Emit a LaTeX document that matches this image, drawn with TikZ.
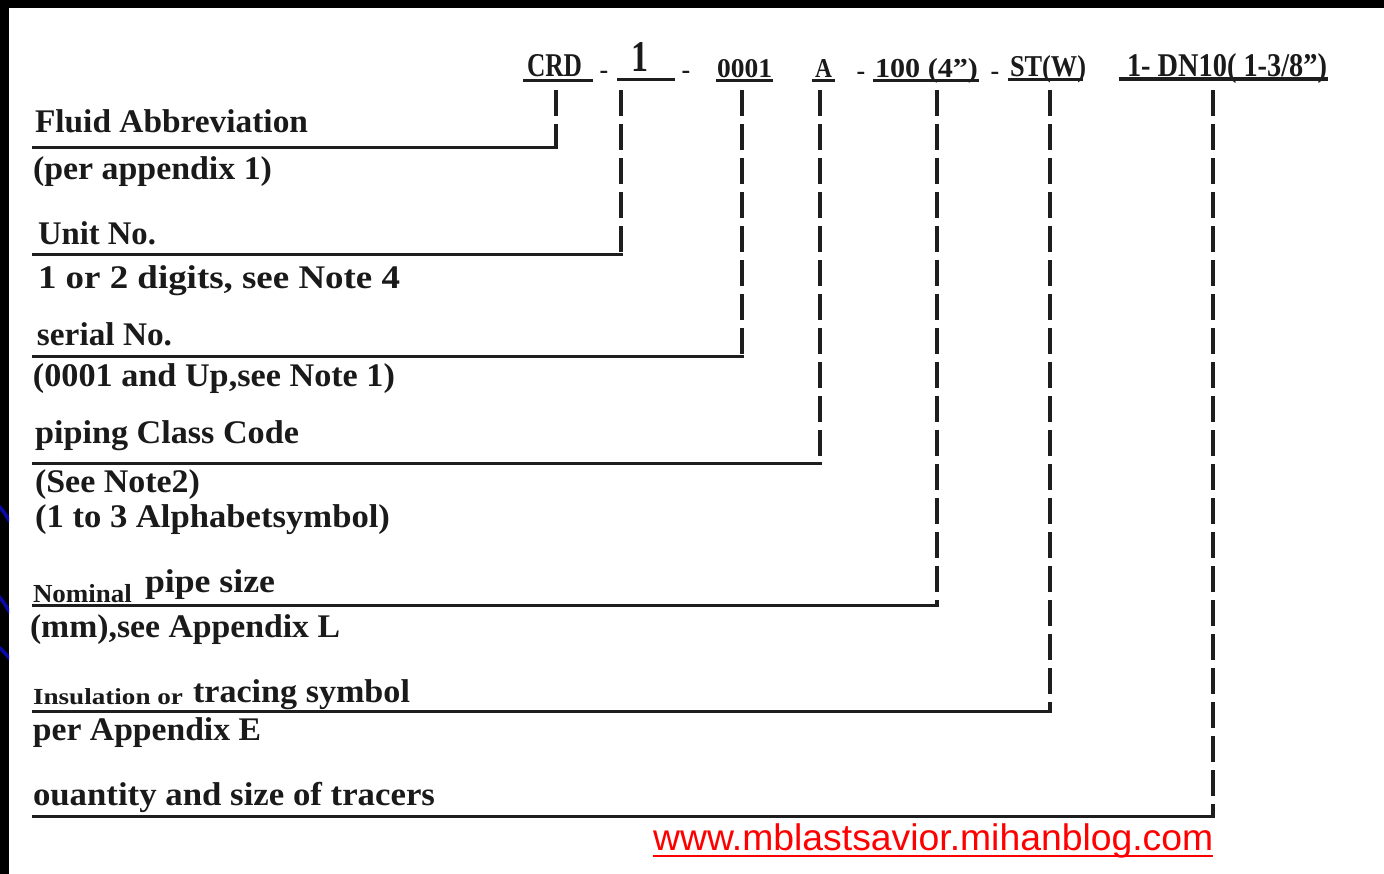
\documentclass[tikz,border=0pt]{standalone}
\usepackage{fontspec}
\setmainfont{Liberation Serif}
\newfontfamily\urlfont{Liberation Sans}
\usepackage{graphicx}
\definecolor{ink}{HTML}{1A1A1A}
\definecolor{lineink}{HTML}{1E1E1E}
\definecolor{slideblue}{HTML}{0A0AA8}
\definecolor{urlred}{HTML}{FF0000}
\newcommand\hfit[2]{\resizebox{#1pt}{\height}{#2}}
\newcommand\bfit[3]{\resizebox{#1pt}{#2pt}{#3}}
\tikzset{
  lbl/.style={anchor=base west, inner sep=0pt, outer sep=0pt, text=ink,
    font=\fontsize{33}{36}\selectfont\bfseries},
  smalllbl/.style={lbl, font=\fontsize{26}{28}\selectfont\bfseries},
  hdr/.style={anchor=base west, inner sep=0pt, outer sep=0pt, text=ink,
    font=\fontsize{30}{32}\selectfont\bfseries},
  dashlbl/.style={anchor=base, inner sep=0pt, outer sep=0pt, text=ink,
    font=\fontsize{26}{28}\selectfont\bfseries},
  uline/.style={draw=lineink, line width=3pt},
  leader/.style={draw=lineink, line width=3.2pt, dash pattern=on 26pt off 8pt},
  shelf/.style={draw=lineink, line width=3pt},
}
\begin{document}
\begin{tikzpicture}[x=1pt,y=-1pt]
\useasboundingbox (0,0) rectangle (1384,874);
% slide background
\fill[black] (0,0) rectangle (1384,874);
\fill[white] (9,8) rectangle (1384,874);
\begin{scope}
  \clip (0,8) rectangle (9,874);
  \draw[slideblue, line width=3.5pt] (-8,500) .. controls (0,506) and (5,513) .. (10,522);
  \draw[slideblue, line width=3.5pt] (-8,590) .. controls (0,596) and (5,604) .. (10,613);
  \draw[slideblue, line width=3.5pt] (-8,642) .. controls (0,647) and (5,653) .. (10,659);
\end{scope}

% ---------- header code ----------
\node[hdr] (crd)  at (527,77) {\bfit{55}{22}{CRD}};
\node[dashlbl] (d1) at (604,79) {-};
\node[hdr] (unit) at (631,72) {\bfit{17}{29}{1}};
\node[dashlbl] (d2) at (686,79) {-};
\node[hdr] (ser)  at (717,78) {\bfit{55}{18}{0001}};
\node[hdr] (cls)  at (815,78) {\bfit{17}{18}{A}};
\node[dashlbl] (d3) at (861,80) {-};
\node[hdr] (size) at (875,78) {\bfit{103}{19}{100 (4")}};
\node[dashlbl] (d4) at (995,80) {-};
\node[hdr] (ins)  at (1010,77) {\bfit{76}{21}{ST(W)}};
\node[hdr] (trc)  at (1127,77) {\bfit{200}{23}{1- DN10( 1-3/8")}};

\draw[uline] (523,81) -- (593,81);
\draw[uline] (617,80) -- (675,80);
\draw[uline] (716,81) -- (773,81);
\draw[uline] (812,81) -- (835,81);
\draw[uline] (873,81) -- (979,81);
\draw[uline] (1008,80) -- (1083,80);
\draw[uline, line width=3.5pt] (1119,79) -- (1328,79);

% ---------- labels ----------
\node[lbl] (l1a) at (35,133) {\hfit{273}{Fluid Abbreviation}};
\node[lbl] (l1b) at (33,180) {\hfit{239}{(per appendix 1)}};
\node[lbl] (l2a) at (38,245) {\hfit{118}{Unit No.}};
\node[lbl] (l2b) at (38,289) {\hfit{362}{1 or 2 digits, see Note 4}};
\node[lbl] (l3a) at (37,346) {\hfit{135}{serial No.}};
\node[lbl] (l3b) at (33,387) {\hfit{362}{(0001 and Up,see Note 1)}};
\node[lbl] (l4a) at (35,443) {\hfit{264}{piping Class Code}};
\node[lbl] (l4b) at (35,492) {\hfit{165}{(See Note2)}};
\node[lbl] (l4c) at (35,527) {\hfit{355}{(1 to 3 Alphabetsymbol)}};
\node[smalllbl] (l5n) at (33,602) {\hfit{99}{Nominal}};
\node[lbl] (l5a) at (145,592) {\hfit{130}{pipe size}};
\node[lbl] (l5b) at (30,637) {\hfit{310}{(mm),see Appendix L}};
\node[smalllbl, font=\fontsize{23}{25}\selectfont\bfseries] (l6n) at (33,704) {\hfit{150}{Insulation or}};
\node[lbl] (l6a) at (193,702) {\hfit{217}{tracing symbol}};
\node[lbl] (l6b) at (33,740) {\hfit{228}{per Appendix E}};
\node[lbl] (l7a) at (33,805) {\hfit{402}{ouantity and size of tracers}};

% ---------- leader lines ----------
\foreach \n/\x/\y in {1/556/148, 2/621/255, 3/742/357, 4/820/463, 5/937/605, 6/1050/711, 7/1213/816}{
  \coordinate (top\n) at (\x,90);
  \coordinate (corner\n) at (\x,\y);
  \coordinate (end\n) at (32,\y);
}
\foreach \n in {1,...,7}{
  \draw[leader] (top\n) -- (corner\n);
  \draw[shelf] ([xshift=1.5pt]corner\n) -- (end\n);
}

% ---------- url ----------
\node[anchor=base west, inner sep=0pt, text=urlred,
  font=\urlfont\fontsize{37}{40}\selectfont] (url) at (653,850)
  {\hfit{560}{www.mblastsavior.mihanblog.com}};
\draw[urlred, line width=2pt] (653,856) -- (1213,856);
\end{tikzpicture}
\end{document}
